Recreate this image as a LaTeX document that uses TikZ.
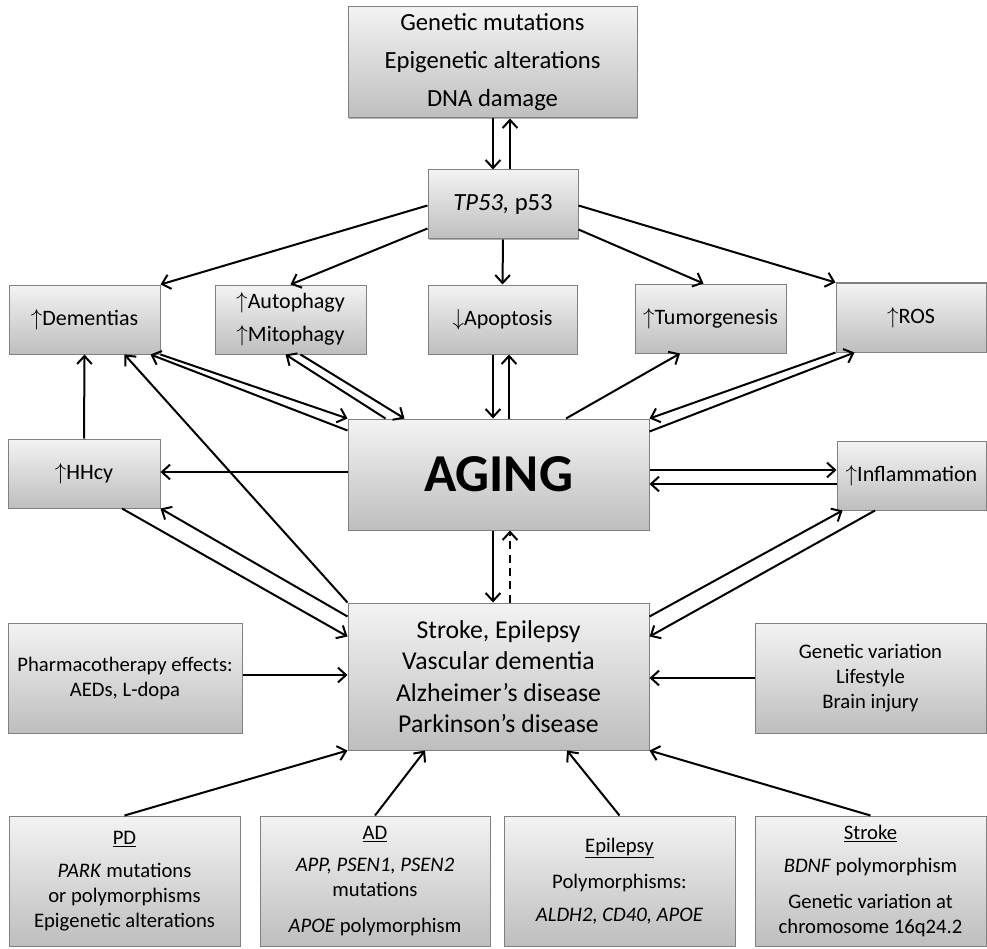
\documentclass[tikz,border=0pt]{standalone}
\usepackage{fontspec}
\setmainfont{Carlito}
\usetikzlibrary{arrows.meta,calc,shadows}

\definecolor{boxtop}{RGB}{243,243,243}
\definecolor{boxbot}{RGB}{190,190,190}
\definecolor{boxline}{RGB}{128,128,128}

\tikzset{every picture/.style={line width=0.75pt}}
\tikzset{
  box/.style={draw=boxline, line width=0.75pt, top color=boxtop, bottom color=boxbot,
    drop shadow={shadow xshift=1pt, shadow yshift=-1pt, opacity=0.3, fill=black},
    inner sep=0pt, align=center},
  boxsize/.style 2 args={minimum width=#1*0.75pt, minimum height=#2*0.75pt},
  bigtxt/.style={font=\fontsize{18.5}{28.5}\selectfont},
  midtxt/.style={font=\fontsize{16.5}{25}\selectfont},
  smalltxt/.style={font=\fontsize{15.5}{18.75}\selectfont},
  arr/.style={-{Straight Barb[length=6pt,width=11pt]}, line width=1.5pt},
}

\begin{document}
\begin{tikzpicture}[x=0.75pt,y=0.75pt,yscale=-1,xscale=1]
	\useasboundingbox (0,0) rectangle (987,948);

	%Shape: Rectangle
	\node[box, bigtxt, boxsize={289}{111}] (gen) at (492.5,62.5) {Genetic mutations\\Epigenetic alterations\\DNA damage};
	%Shape: Rectangle
	\node[box, bigtxt, boxsize={150}{69}] (tp53) at (503,204.5) {\textit{TP53,} p53};
	%Shape: Rectangle
	\node[box, midtxt, boxsize={151}{69}] (dem) at (84.5,319.5) {$\uparrow$Dementias};
	%Shape: Rectangle
	\node[box, midtxt, boxsize={151}{69}] (auto) at (290.5,319.5) {$\uparrow$Autophagy\\$\uparrow$Mitophagy};
	%Shape: Rectangle
	\node[box, midtxt, boxsize={149}{69}] (apop) at (502.5,319.5) {$\downarrow$Apoptosis};
	%Shape: Rectangle
	\node[box, midtxt, boxsize={151}{69}] (tumor) at (710.5,318.5) {$\uparrow$Tumorgenesis};
	%Shape: Rectangle
	\node[box, midtxt, boxsize={150}{69}] (ros) at (911,317.5) {$\uparrow$ROS};
	%Shape: Rectangle
	\node[box, midtxt, boxsize={152}{69}] (hhcy) at (84,473.5) {$\uparrow$HHcy};
	%Shape: Rectangle
	\node[box, font=\fontsize{40}{48}\bfseries\selectfont, boxsize={301}{111}] (aging) at (498.5,474.5) {AGING};
	%Shape: Rectangle
	\node[box, midtxt, boxsize={149}{69}] (infl) at (911.5,475.5) {$\uparrow$Inflammation};
	%Shape: Rectangle
	\node[box, font=\fontsize{19.3}{23.5}\selectfont, boxsize={301}{147}] (dis) at (498.5,676.5) {Stroke, Epilepsy\\Vascular dementia\\Alzheimer’s disease\\Parkinson’s disease};
	%Shape: Rectangle
	\node[box, smalltxt, boxsize={234}{110}] (pharm) at (125,678) {Pharmacotherapy effects:\\AEDs, L-dopa};
	%Shape: Rectangle
	\node[box, smalltxt, boxsize={231}{110}] (genvar) at (870.5,678) {Genetic variation\\Lifestyle\\Brain injury};
	%Shape: Rectangle
	\node[box, smalltxt, boxsize={231}{130}] (pd) at (124.5,881) {\underline{PD}\\[6pt]\textit{PARK} mutations\\or polymorphisms\\Epigenetic alterations};
	%Shape: Rectangle
	\node[box, smalltxt, boxsize={230}{130}] (ad) at (375,881) {\underline{AD}\\[5pt]\textit{APP, PSEN1, PSEN2}\\mutations\\[8pt]\textit{APOE} polymorphism};
	%Shape: Rectangle
	\node[box, smalltxt, boxsize={231}{130}] (epi) at (619.5,881) {\underline{Epilepsy}\\[8pt]Polymorphisms:\\[6pt]\textit{ALDH2, CD40, APOE}};
	%Shape: Rectangle
	\node[box, smalltxt, boxsize={231}{130}] (stroke) at (870.5,881) {\underline{Stroke}\\[6pt]\textit{BDNF} polymorphism\\[8pt]Genetic variation at\\chromosome 16q24.2};

	%Straight Lines
	\draw[arr] ($(gen.south)+(0.5,0)$) -- ($(tp53.north)+(-10,0)$);
	\draw[arr] ($(tp53.north)+(7,0)$) -- ($(gen.south)+(17.5,0)$);
	%Straight Lines
	\draw[arr] ($(tp53.west)+(0,1)$) -- (dem.north east);
	\draw[arr] ($(tp53.west)+(0,24)$) -- (auto.north);
	\draw[arr] (tp53.south) -- (apop.north);
	\draw[arr] ($(tp53.east)+(0,25)$) -- ($(tumor.north)+(-7,0)$);
	\draw[arr] ($(tp53.east)+(0,1)$) -- (ros.north west);
	%Straight Lines
	\draw[arr] (dem.south east) -- (aging.north west);
	\draw[arr] ($(aging.north west)+(0,12)$) -- ($(dem.south east)+(-10,0)$);
	\draw[arr] (dis.north west) -- ($(dem.south)+(40,0)$);
	\draw[arr] (hhcy.north) -- (dem.south);
	%Straight Lines
	\draw[arr] ($(auto.south)+(10,0)$) -- ($(aging.north west)+(57,0)$);
	\draw[arr] ($(aging.north west)+(38,0)$) -- ($(auto.south)+(-5,0)$);
	%Straight Lines
	\draw[arr] ($(apop.south)+(-9.5,0)$) -- ($(aging.north)+(-5.5,0)$);
	\draw[arr] ($(aging.north)+(10.5,0)$) -- ($(apop.south)+(6.5,0)$);
	%Straight Lines
	\draw[arr] ($(aging.north)+(67.5,0)$) -- ($(tumor.south)+(-30.5,0)$);
	\draw[arr] (ros.south west) -- (aging.north east);
	\draw[arr] ($(aging.north east)+(0,13)$) -- ($(ros.south west)+(19,0)$);
	%Straight Lines
	\draw[arr] ($(aging.east)+(0,-4.5)$) -- ($(infl.west)+(0,-5.5)$);
	\draw[arr] ($(infl.west)+(0,8.5)$) -- ($(aging.east)+(0,9.5)$);
	\draw[arr] ($(aging.west)+(0,-2.5)$) -- ($(hhcy.east)+(0,-1.5)$);
	%Straight Lines
	\draw[arr] ($(aging.south)+(-5.5,0)$) -- ($(dis.north)+(-5.5,0)$);
	\draw[arr, dash pattern=on 6pt off 4pt] ($(dis.north)+(11.5,0)$) -- ($(aging.south)+(11.5,0)$);
	%Straight Lines
	\draw[arr] ($(hhcy.south)+(38,0)$) -- ($(dis.north west)+(0,34)$);
	\draw[arr] ($(dis.north west)+(0,14)$) -- (hhcy.south east);
	\draw[arr] ($(dis.north east)+(0,14)$) -- ($(infl.south west)+(6,0)$);
	\draw[arr] ($(infl.south)+(-36.5,0)$) -- ($(dis.north east)+(0,34)$);
	%Straight Lines
	\draw[arr] ($(pharm.east)+(0,-3)$) -- ($(dis.west)+(0,-1.5)$);
	\draw[arr] (genvar.west) -- ($(dis.east)+(0,1.5)$);
	%Straight Lines
	\draw[arr] (pd.north) -- (dis.south west);
	\draw[arr] (ad.north) -- ($(dis.south)+(-73.5,0)$);
	\draw[arr] (epi.north) -- ($(dis.south)+(68.5,0)$);
	\draw[arr] (stroke.north) -- (dis.south east);

\end{tikzpicture}
\end{document}
